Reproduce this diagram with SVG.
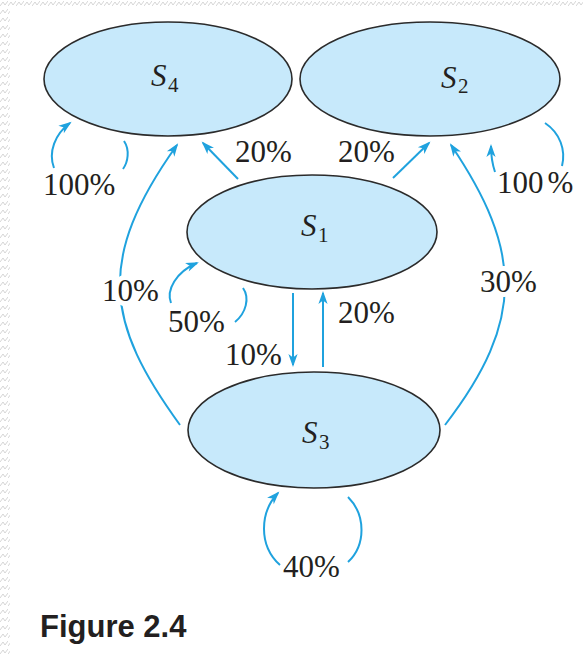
<svg xmlns="http://www.w3.org/2000/svg" width="583" height="656" viewBox="0 0 583 656">
  <defs>
    <pattern id="hatch" width="8" height="8" patternUnits="userSpaceOnUse">
      <rect width="8" height="8" fill="#ffffff"/>
      <path d="M0,6 L3,2 L5,5 L8,1" fill="none" stroke="#d6d6d6" stroke-width="1"/>
    </pattern>
    <marker id="head" viewBox="-12 -5 15 10" refX="0" refY="0" markerWidth="15" markerHeight="10" markerUnits="userSpaceOnUse" orient="auto">
      <path d="M2,0 L-11,-4.6 L-7.5,0 L-11,4.6 Z" fill="#1fa2de"/>
    </marker>
  </defs>
  <style>
    .state { fill: #c7e9fb; stroke: #2b2b2b; stroke-width: 1.6; }
    .sym { font-family: "Liberation Serif", "DejaVu Serif", serif; font-style: italic; font-size: 31px; fill: #231f20; }
    .sub { font-family: "Liberation Serif", "DejaVu Serif", serif; font-size: 21px; fill: #231f20; }
    .pct { font-family: "Liberation Serif", "DejaVu Serif", serif; font-size: 31px; fill: #231f20; }
    .halo { stroke: #ffffff; stroke-width: 10; paint-order: stroke; stroke-linejoin: round; }
    .edge { fill: none; stroke: #1fa2de; stroke-width: 2; }
    .arrow { marker-end: url(#head); }
    .caption { font-family: "Liberation Sans", Arial, sans-serif; font-weight: bold; font-size: 31px; fill: #231f20; }
  </style>

  <rect width="583" height="656" fill="#ffffff"/>
  <!-- textured page border -->
  <rect x="0" y="0" width="583" height="8" fill="url(#hatch)"/>
  <rect x="0" y="0" width="10" height="656" fill="url(#hatch)"/>

  <!-- transitions -->
  <g id="connectors">
    <!-- S4 self loop -->
    <path class="edge arrow" d="M54,168 C48,152 55,134 70,123"/>
    <path class="edge" d="M124,141 C130,150 128,162 123,169"/>
    <!-- S2 self loop -->
    <path class="edge arrow" d="M495,172 Q491,160 491,146"/>
    <path class="edge" d="M545,123 C560,133 566,150 562,166"/>
    <!-- S1 to S4 -->
    <path class="edge arrow" d="M238,179 L203,143"/>
    <!-- S1 to S2 -->
    <path class="edge arrow" d="M393,178 L429,143"/>
    <!-- S3 to S4 -->
    <path class="edge arrow" d="M180,425 C106,323 95,260 177,145"/>
    <!-- S3 to S2 -->
    <path class="edge arrow" d="M445,425 C526,320 522,250 451,145"/>
    <!-- S1 self loop -->
    <path class="edge arrow" d="M171,303 C166,290 176,272 197,263"/>
    <path class="edge" d="M243,288 C250,298 246,313 235,322"/>
    <!-- S1 to S3 -->
    <path class="edge arrow" d="M293,293 L293,365"/>
    <!-- S3 to S1 -->
    <path class="edge arrow" d="M323,367 L323,293"/>
    <!-- S3 self loop -->
    <path class="edge arrow" d="M280,565 C258,545 260,512 278,493"/>
    <path class="edge" d="M348,497 C366,515 366,545 348,562"/>
  </g>

  <!-- states -->
  <g id="s4">
    <ellipse class="state" cx="168" cy="79" rx="124" ry="57"/>
    <text class="sym" x="151" y="86">S</text>
    <text class="sub" x="168" y="92">4</text>
  </g>
  <g id="s2">
    <ellipse class="state" cx="430" cy="79" rx="130" ry="57"/>
    <text class="sym" x="441" y="88">S</text>
    <text class="sub" x="458" y="93">2</text>
  </g>
  <g id="s1">
    <ellipse class="state" cx="312" cy="232" rx="125" ry="57"/>
    <text class="sym" x="301" y="236">S</text>
    <text class="sub" x="318" y="242">1</text>
  </g>
  <g id="s3">
    <ellipse class="state" cx="314" cy="430" rx="126" ry="58"/>
    <text class="sym" x="302" y="443">S</text>
    <text class="sub" x="319" y="449">3</text>
  </g>

  <!-- transition probabilities -->
  <g id="labels">
    <text class="pct" x="235" y="162">20%</text>
    <text class="pct" x="338" y="162">20%</text>
    <text class="pct" x="43" y="195">100%</text>
    <text class="pct" x="497" y="193">100<tspan dx="4">%</tspan></text>
    <text class="pct halo" x="102" y="301">10%</text>
    <text class="pct" x="168" y="332">50%</text>
    <text class="pct" x="225" y="365">10%</text>
    <text class="pct" x="338" y="323">20%</text>
    <text class="pct halo" x="480" y="292">30%</text>
    <text class="pct" x="283" y="577">40%</text>
  </g>

  <text class="caption" x="40" y="637">Figure 2.4</text>
</svg>
